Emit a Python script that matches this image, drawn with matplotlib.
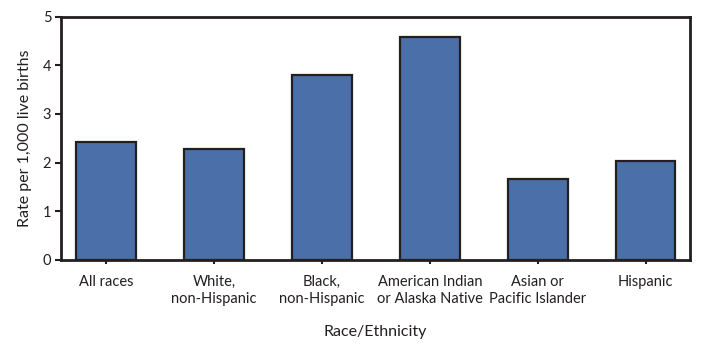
import matplotlib.pyplot as plt

categories = ["All races", "White,\nnon-Hispanic", "Black,\nnon-Hispanic",
              "American Indian\nor Alaska Native", "Asian or\nPacific Islander", "Hispanic"]
rates = [2.43, 2.28, 3.80, 4.58, 1.66, 2.03]

plt.rcParams['font.family'] = ['Lato', 'DejaVu Sans']
dark = '#231f20'

fig = plt.figure(figsize=(7.08, 3.48), dpi=100)
ax = fig.add_axes([0.0862, 0.2537, 0.8884, 0.6983])

x = range(len(categories))
ax.bar(x, rates, width=0.55, color='#4a6fa9', edgecolor=dark, linewidth=1.6)

ax.set_xlim(-0.417, 5.41)
ax.set_ylim(0, 5)
ax.set_yticks([0, 1, 2, 3, 4, 5])
ax.set_xticks(list(x))
ax.set_xticklabels(categories, fontsize=10.5, color=dark, linespacing=1.25)
ax.tick_params(axis='y', labelsize=10.5, colors=dark, length=4, width=1.5, pad=3)
ax.tick_params(axis='x', colors=dark, length=3, width=1.5, pad=8)

for s in ax.spines.values():
    s.set_linewidth(2)
    s.set_color(dark)

ax.set_ylabel('Rate per 1,000 live births', fontsize=11.5, color=dark, labelpad=8)
ax.set_xlabel('Race/Ethnicity', fontsize=11.5, color=dark, labelpad=14)

fig.savefig('out.png', dpi=100)
